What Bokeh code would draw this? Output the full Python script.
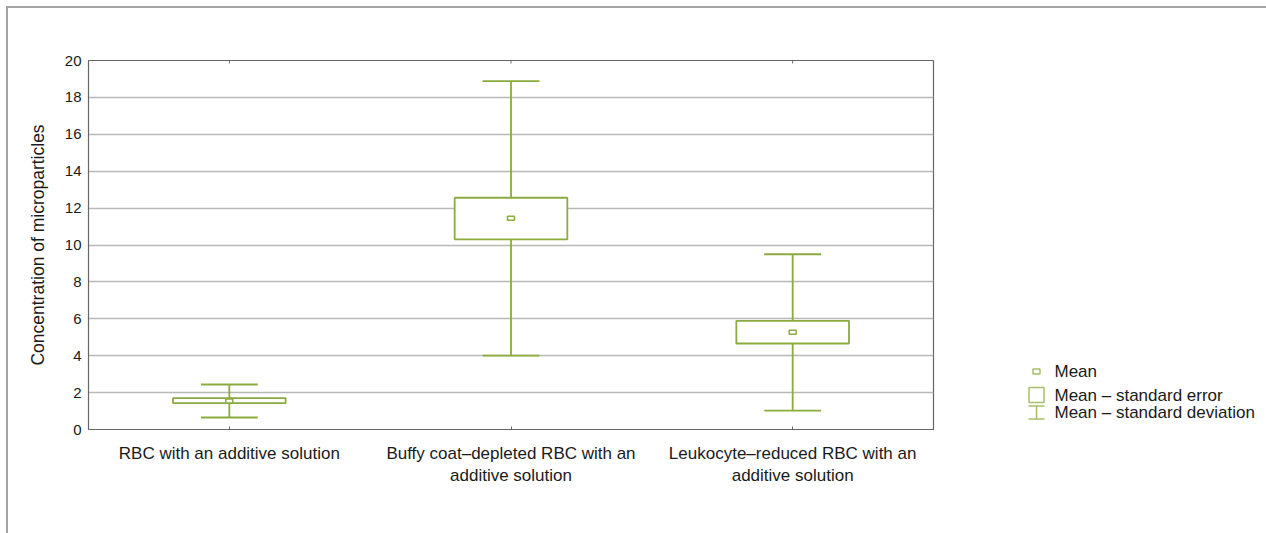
from bokeh.plotting import figure
from bokeh.layouts import row
from bokeh.models import Range1d, FixedTicker, ColumnDataSource
from bokeh.core.properties import value
from bokeh.embed import file_html
from bokeh.resources import INLINE
import numpy as np

# Microparticle concentration per blood component (mean, SE and SD bounds)
groups = [
    "RBC with an additive solution",
    "Buffy coat\u2013depleted RBC with an\nadditive solution",
    "Leukocyte\u2013reduced RBC with an\nadditive solution",
]
mean = [1.55, 11.45, 5.27]
se_low = [1.43, 10.31, 4.66]
se_high = [1.70, 12.56, 5.89]
sd_low = [0.65, 4.00, 1.02]
sd_high = [2.44, 18.88, 9.50]
y_ticks = [0, 2, 4, 6, 8, 10, 12, 14, 16, 18, 20]
legend_labels = ["Mean", "Mean \u2013 standard error", "Mean \u2013 standard deviation"]

GREEN = "#8bab3e"
LEG_GREEN = "#a6bf6a"
AXIS = "#666666"
TEXT = "#1a1a1a"
FONT = "Liberation Sans"

pos = np.arange(len(groups)) + 0.5
src = ColumnDataSource(dict(
    x=pos, mean=mean, se_low=se_low, se_high=se_high, sd_low=sd_low, sd_high=sd_high,
    cap_l=pos - 0.101, cap_r=pos + 0.101,
))

BORDERS = dict(min_border_top=52, min_border_bottom=104)

# ---- main chart -------------------------------------------------------------
p = figure(width=952, height=525, x_range=Range1d(0, 3), y_range=Range1d(0, 20),
           output_backend="svg", toolbar_location=None,
           min_border_left=80, min_border_right=27, **BORDERS)
p.background_fill_color = "white"
p.border_fill_color = "white"
p.outline_line_color = AXIS
p.outline_line_width = 1.2

p.xaxis.ticker = FixedTicker(ticks=list(pos))
p.xaxis.major_label_overrides = {float(v): g for v, g in zip(pos, groups)}
p.xaxis.major_tick_in = 3
p.xaxis.major_tick_out = 0
p.xaxis.minor_tick_line_color = None
p.xaxis.axis_line_color = AXIS
p.xaxis.major_tick_line_color = AXIS
p.xaxis.major_label_standoff = 14
p.xaxis.major_label_text_font = FONT
p.xaxis.major_label_text_font_size = "17px"
p.xaxis.major_label_text_color = TEXT

p.yaxis.ticker = FixedTicker(ticks=y_ticks)
p.yaxis.major_tick_in = 0
p.yaxis.major_tick_out = 0
p.yaxis.minor_tick_line_color = None
p.yaxis.axis_line_color = AXIS
p.yaxis.major_label_standoff = 7
p.yaxis.major_label_text_font = FONT
p.yaxis.major_label_text_font_size = "15px"
p.yaxis.major_label_text_color = TEXT
p.yaxis.axis_label = "Concentration of microparticles"
p.yaxis.axis_label_text_font = FONT
p.yaxis.axis_label_text_font_size = "17.5px"
p.yaxis.axis_label_text_font_style = "normal"
p.yaxis.axis_label_text_color = TEXT
p.yaxis.axis_label_standoff = 14

p.xgrid.visible = False
p.ygrid.ticker = FixedTicker(ticks=y_ticks)
p.ygrid.grid_line_color = "#b8b8b8"
p.ygrid.grid_line_width = 1.4

# small inward tick marks on the top edge of the frame
p.scatter(x=pos, y=[y_ticks[-1]] * len(pos), marker="dash", angle=np.pi / 2, size=6,
          line_color=AXIS, line_width=1)

# whiskers (mean +/- SD)
p.segment(x0="x", y0="sd_low", x1="x", y1="sd_high", source=src, line_color=GREEN, line_width=1.8)
p.segment(x0="cap_l", y0="sd_high", x1="cap_r", y1="sd_high", source=src, line_color=GREEN, line_width=1.8)
p.segment(x0="cap_l", y0="sd_low", x1="cap_r", y1="sd_low", source=src, line_color=GREEN, line_width=1.8)
# boxes (mean +/- SE)
p.vbar(x="x", width=0.4, bottom="se_low", top="se_high", source=src,
       fill_color="white", line_color=GREEN, line_width=1.8)
# mean markers
p.rect(x="x", y="mean", width=7, height=4, width_units="screen", height_units="screen",
       source=src, fill_color="white", line_color=GREEN, line_width=1.5)

# ---- legend panel (page pixel coordinates, y downwards) ----------------------
lg = figure(width=306, height=525, x_range=Range1d(960, 1266), y_range=Range1d(429, 60),
            output_backend="svg", toolbar_location=None, x_axis_type=None, y_axis_type=None,
            min_border_left=0, min_border_right=0, **BORDERS)
lg.outline_line_color = None
lg.grid.visible = False
lg.background_fill_color = "white"
lg.border_fill_color = "white"

sym_x = 1036
row_y = [371, 394.5, 412]
# mean symbol
lg.rect(x=[sym_x], y=[row_y[0]], width=7, height=5, width_units="screen", height_units="screen",
        fill_color="white", line_color=LEG_GREEN, line_width=1.5)
# standard error symbol
lg.rect(x=[sym_x], y=[row_y[1]], width=15, height=15, width_units="screen", height_units="screen",
        fill_color="white", line_color=LEG_GREEN, line_width=1.5)
# standard deviation symbol
lg.segment(x0=[sym_x - 8, sym_x - 8, sym_x], y0=[row_y[2] - 6.5, row_y[2] + 6.5, row_y[2] - 6.5],
           x1=[sym_x + 8, sym_x + 8, sym_x], y1=[row_y[2] - 6.5, row_y[2] + 6.5, row_y[2] + 6.5],
           line_color=LEG_GREEN, line_width=1.5)
lg.text(x=[1054] * 3, y=row_y, text=legend_labels, text_font=value(FONT),
        text_font_size="17px", text_color=TEXT, text_baseline="middle", text_align="left")

layout = row(p, lg, styles={"margin-left": "6px", "margin-top": "6px",
                            "border-top": "2px solid #a3a3a3", "border-left": "2px solid #a3a3a3"})

open("out.html", "w").write(file_html(layout, INLINE))
